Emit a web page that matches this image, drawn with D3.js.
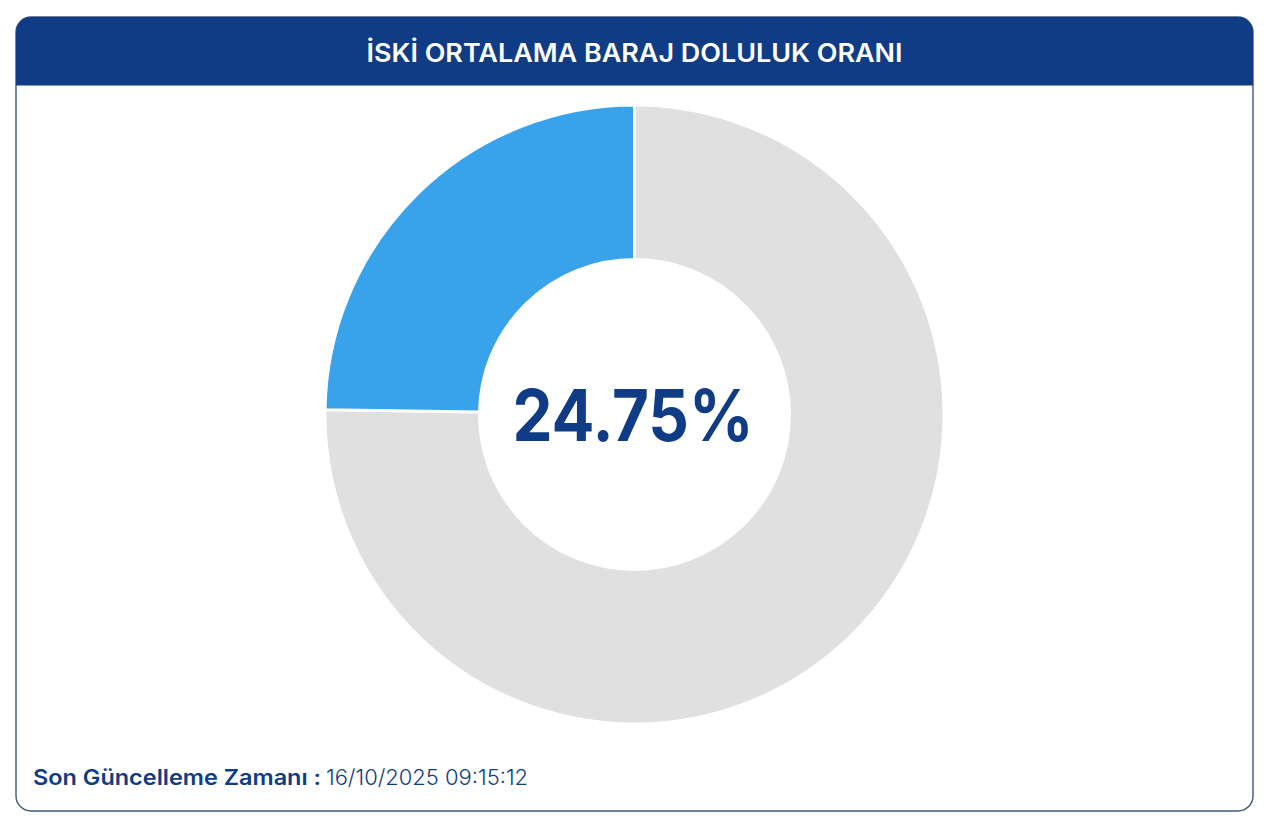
<!DOCTYPE html>
<html>
<head>
<meta charset="utf-8">
<script src="https://cdn.jsdelivr.net/npm/d3@7"></script>
<style>
html, body { margin: 0; padding: 0; background: #fff; }
#chart { width: 1280px; height: 830px; overflow: hidden; }
svg { display: block; }
text { font-family: Inter, "Noto Sans", sans-serif; }
</style>
</head>
<body>
<div id="chart"></div>
<script>
// Chart values
var categories = ['Boş', 'Dolu'];
var values = [75.25, 24.75];
var colors = ['#e0e0e0', '#38a2ea'];

var titleText = 'İSKİ ORTALAMA BARAJ DOLULUK ORANI';
var centerText = '24.75%';
var updateLabel = 'Son Güncelleme Zamanı :';
var updateValue = '16/10/2025 09:15:12';

var navy = '#103c85';
var width = 1280;
var height = 830;

var svg = d3.select('#chart')
	.append('svg')
	.attr('width', width)
	.attr('height', height);

// Card position
var card = {x: 16, y: 17, w: 1237, h: 794, r: 15, header: 68.5};

// Card border and header
svg.append('rect')
	.attr('x', card.x)
	.attr('y', card.y)
	.attr('width', card.w)
	.attr('height', card.h)
	.attr('rx', card.r)
	.attr('fill', '#fff')
	.attr('stroke', '#3f5878')
	.attr('stroke-width', 1.4);

var headerPath = d3.path();
headerPath.moveTo(card.x, card.y + card.header);
headerPath.lineTo(card.x, card.y + card.r);
headerPath.arcTo(card.x, card.y, card.x + card.r, card.y, card.r);
headerPath.lineTo(card.x + card.w - card.r, card.y);
headerPath.arcTo(card.x + card.w, card.y, card.x + card.w, card.y + card.r, card.r);
headerPath.lineTo(card.x + card.w, card.y + card.header);
headerPath.closePath();

svg.append('path')
	.attr('d', headerPath.toString())
	.attr('fill', navy);

svg.append('text')
	.attr('x', card.x + card.w / 2)
	.attr('y', 62)
	.attr('text-anchor', 'middle')
	.attr('fill', '#fff')
	.attr('font-size', 25)
	.attr('font-weight', 600)
	.attr('textLength', 536)
	.attr('lengthAdjust', 'spacingAndGlyphs')
	.text(titleText);

// Donut
var cx = 634.5;
var cy = 414.5;
var outerRadius = 309.5;
var innerRadius = 155;

var pie = d3.pie().sort(null).value(function(d) { return d; });
var arc = d3.arc().innerRadius(innerRadius).outerRadius(outerRadius);

var g = svg.append('g')
	.attr('transform', 'translate(' + cx + ',' + cy + ')');

g.selectAll('path')
	.data(pie(values))
	.enter()
	.append('path')
	.attr('d', arc)
	.attr('fill', function(d, i) { return colors[i]; })
	.attr('stroke', '#fff')
	.attr('stroke-width', 3)
	.append('title')
	.text(function(d, i) { return categories[i]; });

g.append('text')
	.attr('x', -1.5)
	.attr('y', 26)
	.attr('text-anchor', 'middle')
	.attr('fill', navy)
	.attr('font-size', 71)
	.attr('font-weight', 700)
	.attr('textLength', 241)
	.attr('lengthAdjust', 'spacingAndGlyphs')
	.text(centerText);

// Footer
svg.append('text')
	.attr('x', 33)
	.attr('y', 785)
	.attr('fill', navy)
	.attr('font-size', 21.5)
	.attr('font-weight', 600)
	.attr('textLength', 288)
	.attr('lengthAdjust', 'spacingAndGlyphs')
	.text(updateLabel);

svg.append('text')
	.attr('x', 326)
	.attr('y', 785)
	.attr('fill', navy)
	.attr('font-size', 21.5)
	.attr('font-weight', 300)
	.attr('textLength', 202)
	.attr('lengthAdjust', 'spacingAndGlyphs')
	.text(updateValue);
</script>
</body>
</html>
